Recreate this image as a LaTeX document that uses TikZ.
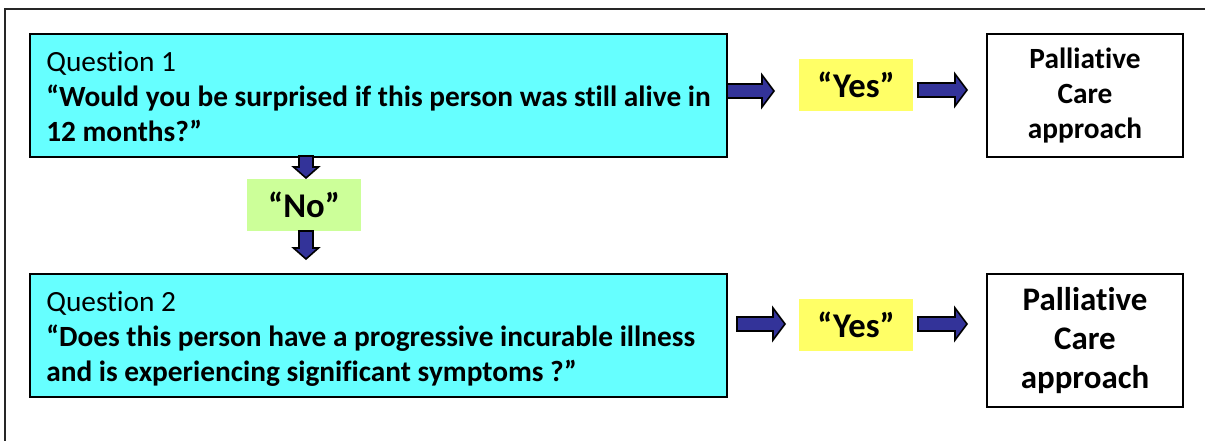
\documentclass[tikz,border=0pt]{standalone}
\usepackage{fontspec}
\setmainfont{Carlito}[Ligatures=NoCommon]
\definecolor{qcyan}{HTML}{66FFFF}
\definecolor{yyel}{HTML}{FFFF66}
\definecolor{ngreen}{HTML}{CCFF99}
\definecolor{arrblue}{HTML}{333399}
\newcommand\pxl[1]{#1*0.75pt}
\newcommand\harrow[3]{%
  \filldraw[blockarr] ({#1},{#3-7}) -- ({#2-12},{#3-7}) -- ({#2-12},{#3-16}) -- ({#2},{#3}) -- ({#2-12},{#3+16}) -- ({#2-12},{#3+7}) -- ({#1},{#3+7}) -- cycle;}
\newcommand\varrow[3]{%
  \filldraw[blockarr] ({#1-7},{#2}) -- ({#1-7},{#3-11}) -- ({#1-12.5},{#3-11}) -- ({#1},{#3}) -- ({#1+12.5},{#3-11}) -- ({#1+7},{#3-11}) -- ({#1+7},{#2}) -- cycle;}
\tikzset{
  qbox/.style={draw=black, line width=1.5pt, fill=qcyan, minimum width=\pxl{697}, minimum height=\pxl{123}, inner sep=0pt},
  pbox/.style={draw=black, line width=1.5pt, fill=white, align=center, minimum width=\pxl{196}, inner sep=0pt, font=\bfseries},
  ansbox/.style={minimum width=\pxl{114}, minimum height=\pxl{52}, inner sep=0pt, font=\fontsize{26}{30}\selectfont\bfseries},
  qtext/.style={anchor=north west, align=left, inner sep=0pt, font=\fontsize{22}{26.3}\selectfont},
  blockarr/.style={fill=arrblue, draw=black, line width=1.2pt, line join=miter},
}
\begin{document}
\begin{tikzpicture}[x=0.75pt, y=-0.75pt]
\useasboundingbox (0,0) rectangle (1205,441);
\draw[line width=1.5pt, draw=black!85] (5,441) -- (5,9) -- (1205,9);
% Question boxes
\node[qbox] (q1) at (378.5,95.5) {};
\node[qtext] (q1t) at (46,51) {Question 1\\\textbf{“Would you be surprised if this person was still alive in}\\\textbf{12 months?”}};
\node[qbox] (q2) at (378.5,335.5) {};
\node[qtext] (q2t) at (46,291) {Question 2\\\textbf{“Does this person have a progressive incurable illness}\\\textbf{and is experiencing significant symptoms ?”}};
% answers
\node[ansbox, fill=yyel] (y1) at (856,85) {“Yes”};
\node[ansbox, fill=yyel] (y2) at (856,325) {“Yes”};
\node[ansbox, fill=ngreen] (no) at (304,205) {“No”};
% palliative boxes
\node[pbox, minimum height=\pxl{123}, font=\fontsize{22}{26.5}\selectfont\bfseries] (p1) at (1085,95.5) {Palliative\\Care\\approach};
\node[pbox, minimum height=\pxl{133}, font=\fontsize{24.7}{29}\selectfont\bfseries] (p2) at (1085,340.5) {Palliative\\Care\\approach};
% arrows
\harrow{727}{774}{91}
\harrow{918}{967}{90}
\harrow{737}{785}{324}
\harrow{918}{967}{324}
\varrow{306}{156}{178}
\varrow{306}{231}{259}
\end{tikzpicture}
\end{document}
